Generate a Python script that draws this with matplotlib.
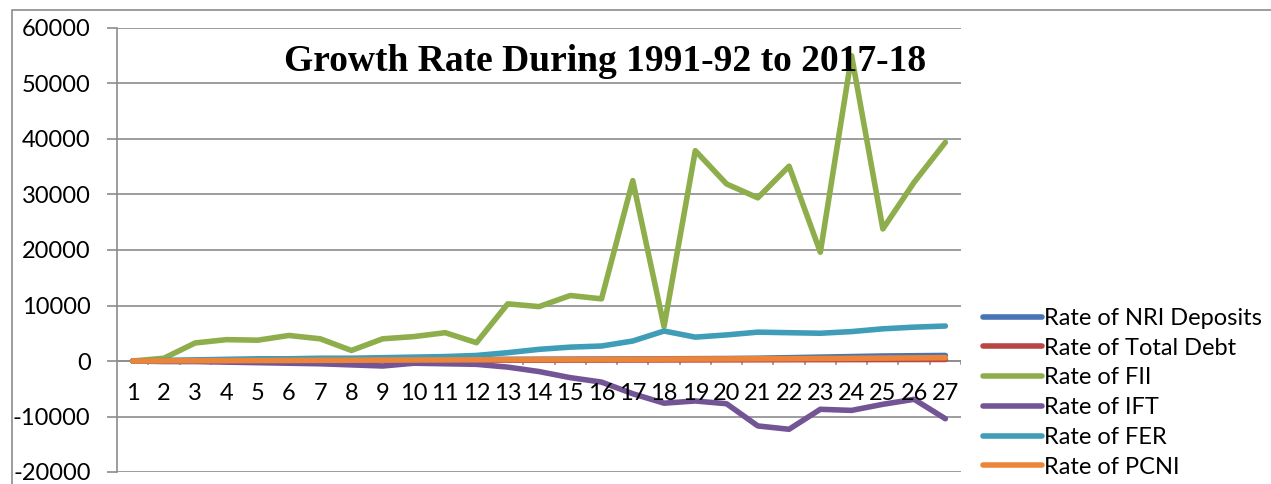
import matplotlib.pyplot as plt
from matplotlib.patches import Rectangle

# categories (years 1991-92 .. 2017-18 numbered 1..27)
years = list(range(1, 28))

nri = [0, 50, 80, 100, 120, 150, 170, 190, 210, 230, 250, 270, 300, 320, 340,
       360, 380, 400, 420, 450, 500, 600, 700, 800, 900, 950, 1000]
total_debt = [0, 20, 40, 50, 60, 70, 80, 90, 100, 110, 120, 130, 140, 150, 160,
              170, 180, 190, 200, 210, 220, 230, 240, 250, 260, 270, 280]
fii = [0, 500, 3250, 3850, 3750, 4600, 4000, 1900, 4000, 4400, 5100, 3300,
       10300, 9800, 11800, 11200, 32500, 6200, 37900, 31900, 29400, 35100,
       19600, 55000, 23800, 32200, 39400]
ift = [0, -100, -100, -200, -300, -400, -500, -700, -900, -400, -500, -600,
       -1100, -1900, -3000, -3800, -5900, -7600, -7200, -7700, -11700, -12300,
       -8700, -8900, -7800, -6900, -10400]
fer = [0, 100, 200, 300, 400, 400, 500, 500, 600, 700, 800, 1000, 1500, 2100,
       2500, 2700, 3600, 5400, 4300, 4700, 5200, 5100, 5000, 5300, 5800, 6100, 6300]
pcni = [0, 20, 40, 60, 80, 100, 120, 140, 160, 180, 200, 220, 240, 260, 280,
        300, 320, 340, 360, 380, 400, 420, 450, 480, 520, 560, 600]

series = [
    ("Rate of NRI Deposits", nri, "#4674b4"),
    ("Rate of Total Debt", total_debt, "#b84744"),
    ("Rate of FII", fii, "#8dae4b"),
    ("Rate of IFT", ift, "#735596"),
    ("Rate of FER", fer, "#3f9db7"),
    ("Rate of PCNI", pcni, "#ec8539"),
]
y_ticks = [-20000, -10000, 0, 10000, 20000, 30000, 40000, 50000, 60000]

plt.rcParams['font.family'] = ['Lato', 'DejaVu Sans']

fig = plt.figure(figsize=(12.71, 4.84), dpi=100)
ax = fig.add_axes([117 / 1271, 12 / 484, 844 / 1271, 444 / 484])

# outer chart border
fig.patches.append(Rectangle((12 / 1271, -0.01), 1.1, (484 - 10) / 484 + 0.01,
                             transform=fig.transFigure, fill=False,
                             edgecolor="#8c8c8c", linewidth=1.2))

for label, vals, col in series:
    ax.plot(years, vals, color=col, linewidth=4, label=label,
            solid_capstyle='round', solid_joinstyle='round')

ax.set_xlim(0.5, 27.5)
ax.set_ylim(-20000, 60000)
ax.set_yticks(y_ticks)
ax.set_yticklabels([str(v) for v in y_ticks], fontsize=17)
ax.yaxis.grid(True, color="#8c8c8c", linewidth=1.2)
ax.set_axisbelow(True)
ax.tick_params(axis='y', length=7, width=1.2, color="#8c8c8c", pad=12)

for s in ['top', 'right', 'bottom']:
    ax.spines[s].set_visible(False)
ax.spines['left'].set_color("#8c8c8c")
ax.spines['left'].set_linewidth(1.2)

# horizontal axis through zero, with category ticks and labels below it
ax.axhline(0, color="#8c8c8c", linewidth=1.2, zorder=1)
ax.set_xticks([])
for b in range(1, 28):
    ax.plot([b + 0.5, b + 0.5], [0, -600], color="#8c8c8c", linewidth=1.2,
            zorder=1)
for yr in years:
    ax.text(yr, -5800, str(yr), ha='center', va='center', fontsize=17,
            color="black")

ax.text(0.578, 0.925, "Growth Rate During 1991-92 to 2017-18",
        transform=ax.transAxes, ha='center', va='center', fontsize=27,
        fontweight='bold', family='Liberation Serif')

leg = ax.legend(loc='upper left', bbox_to_anchor=(983 / 1271, (484 - 308) / 484),
                bbox_transform=fig.transFigure, frameon=False, fontsize=17,
                handlelength=2.5, handletextpad=0.1, labelspacing=0.37,
                borderaxespad=0, borderpad=0)
for h in leg.get_lines():
    h.set_linewidth(4)

fig.savefig("out.png", dpi=100)
